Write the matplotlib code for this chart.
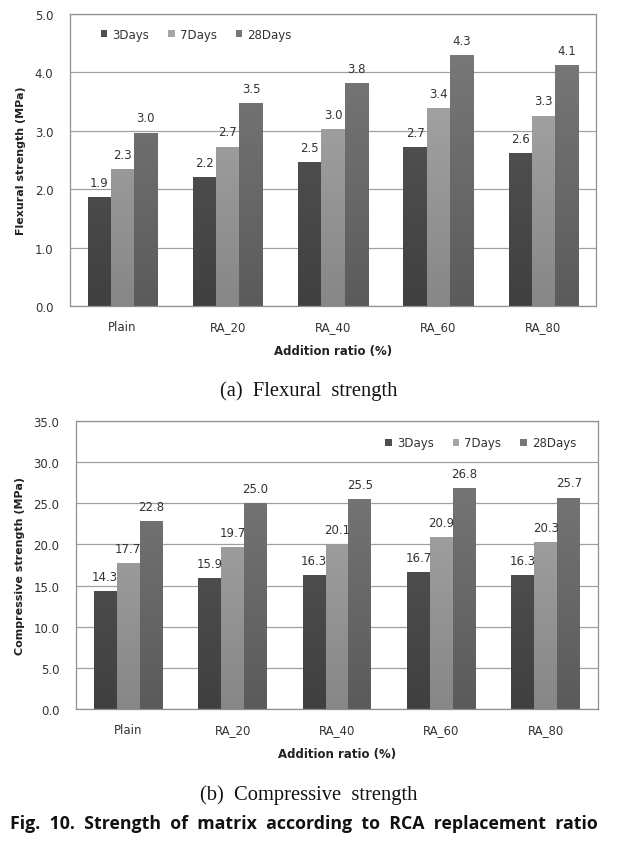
import matplotlib
matplotlib.use("Agg")
import matplotlib.pyplot as plt
import numpy as np
from matplotlib.colors import LinearSegmentedColormap

categories = ["Plain", "RA_20", "RA_40", "RA_60", "RA_80"]
series_names = ["3Days", "7Days", "28Days"]

flex_3d = [1.87, 2.21, 2.46, 2.72, 2.62]
flex_7d = [2.34, 2.73, 3.03, 3.39, 3.26]
flex_28d = [2.97, 3.47, 3.82, 4.29, 4.12]

comp_3d = [14.3, 15.9, 16.3, 16.7, 16.3]
comp_7d = [17.7, 19.7, 20.1, 20.9, 20.3]
comp_28d = [22.8, 25.0, 25.5, 26.8, 25.7]

flex_ticks = [0.0, 1.0, 2.0, 3.0, 4.0, 5.0]
comp_ticks = [0.0, 5.0, 10.0, 15.0, 20.0, 25.0, 30.0, 35.0]

# (top colour, bottom colour) of each series gradient
grads = [("#5b5b5b", "#404040"), ("#adadad", "#878787"), ("#7c7c7c", "#5b5b5b")]
legend_cols = ["#4e4e4e", "#a6a6a6", "#767676"]

FONT = "DejaVu Sans"
W, H = 618, 845
fig = plt.figure(figsize=(W / 100, H / 100), dpi=100)


def draw(ax_rect, data, ticks, ylabel, legend_anchor):
    ax = fig.add_axes(ax_rect)
    x = np.arange(len(categories))
    bw = 0.22
    offs = [-bw, 0, bw]
    ymax = ticks[-1]
    for i, vals in enumerate(data):
        bars = ax.bar(x + offs[i], vals, bw, color=legend_cols[i], label=series_names[i],
                      zorder=2, linewidth=0)
        cmap = LinearSegmentedColormap.from_list("g%d" % i, [grads[i][1], grads[i][0]])
        for b, v in zip(bars, vals):
            x0 = b.get_x()
            grad = np.linspace(0, 1, 100).reshape(-1, 1)
            im = ax.imshow(grad, cmap=cmap, aspect="auto", origin="lower",
                           extent=(x0, x0 + b.get_width(), 0, ymax), zorder=2.1)
            im.set_clip_path(b)
            ax.text(b.get_x() + b.get_width() / 2, v + ymax * 0.028, "%.1f" % v,
                    ha="center", va="bottom", fontsize=8.5, color="#333333",
                    family=FONT, zorder=3)
    ax.set_xlim(-0.5, len(categories) - 0.5)
    ax.set_ylim(0, ymax)
    ax.set_yticks(ticks)
    ax.set_yticklabels(["%.1f" % t for t in ticks], fontsize=8.5, color="#333333", family=FONT)
    ax.set_xticks(x)
    ax.set_xticklabels(categories, fontsize=8.5, color="#333333", family=FONT, va="baseline")
    ax.tick_params(length=0)
    ax.tick_params(axis="x", pad=17.3)
    ax.tick_params(axis="y", pad=12)
    ax.yaxis.grid(True, color="#a0a0a0", linewidth=0.9, zorder=0)
    ax.set_axisbelow(True)
    for s in ax.spines.values():
        s.set_color("#909090")
        s.set_linewidth(0.9)
    ax.set_xlabel("Addition ratio (%)", fontsize=8.5, fontweight="bold", color="#222222",
                  family=FONT, labelpad=8)
    ax.set_ylabel(ylabel, fontsize=8, fontweight="bold", color="#222222", family=FONT,
                  labelpad=6)
    leg = ax.legend(loc="center left", bbox_to_anchor=legend_anchor, ncol=3, frameon=False,
                    borderpad=0, borderaxespad=0,
                    handlelength=0.55, handleheight=0.55, handletextpad=0.45,
                    columnspacing=1.6, prop={"family": FONT, "size": 8.5})
    for t in leg.get_texts():
        t.set_color("#333333")
    return ax


draw([70 / W, 1 - 307 / H, 526 / W, 292 / H], [flex_3d, flex_7d, flex_28d], flex_ticks,
     "Flexural strength (MPa)", (0.058, 0.9315))
draw([76 / W, 1 - 710 / H, 522 / W, 288 / H], [comp_3d, comp_7d, comp_28d], comp_ticks,
     "Compressive strength (MPa)", (0.592, 0.924))

fig.text(0.5, 1 - 391 / H, "(a)  Flexural  strength", ha="center", va="center",
         fontsize=14.8, family="Liberation Serif", color="#111111")
fig.text(0.5, 1 - 795 / H, "(b)  Compressive  strength", ha="center", va="center",
         fontsize=14.8, family="Liberation Serif", color="#111111")
fig.text(303.5 / W, 1 - 824 / H,
         "Fig.  10.  Strength  of  matrix  according  to  RCA  replacement  ratio",
         ha="center", va="center", fontsize=12.8, fontweight="bold", family="Open Sans",
         color="#111111")

fig.savefig("out.png", dpi=100)
